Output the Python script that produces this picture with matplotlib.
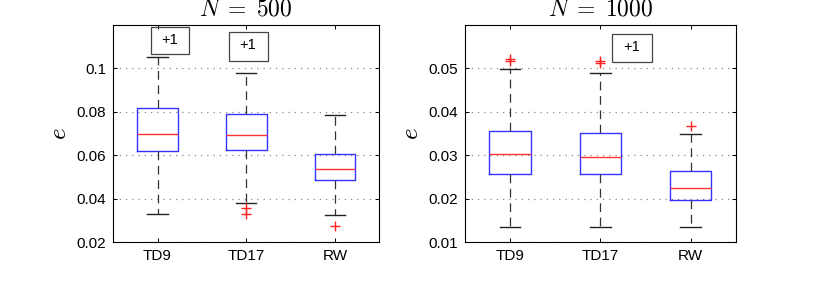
import matplotlib
matplotlib.use('Agg')
import matplotlib.pyplot as plt
from matplotlib.patches import Rectangle

plt.rcParams['font.family'] = ['Liberation Sans', 'DejaVu Sans']
plt.rcParams['mathtext.fontset'] = 'cm'

# Box statistics
labels = ['TD9', 'TD17', 'RW']

# N = 500
n500_whislo = [0.0331, 0.0381, 0.0325]
n500_q1 = [0.0622, 0.0625, 0.0485]
n500_med = [0.0697, 0.0692, 0.0537]
n500_q3 = [0.0818, 0.0792, 0.0606]
n500_whishi = [0.1054, 0.0980, 0.0788]
n500_fliers = [[], [0.0358, 0.0332], [0.0277]]

# N = 1000
n1000_whislo = [0.0135, 0.0135, 0.0135]
n1000_q1 = [0.0257, 0.0257, 0.0198]
n1000_med = [0.0302, 0.0297, 0.0226]
n1000_q3 = [0.0355, 0.0351, 0.0264]
n1000_whishi = [0.0499, 0.0490, 0.0348]
n1000_fliers = [[0.0521, 0.0517], [0.0518, 0.0512], [0.0368]]

# "+1" markers for values off the top of the axes (axes fractions)
n500_notes = [(0.141, 0.867, 0.144, 0.122), (0.434, 0.836, 0.146, 0.130)]
n1000_notes = [(0.543, 0.829, 0.147, 0.131)]


def make_stats(whislo, q1, med, q3, whishi, fliers):
    stats = []
    for i, lab in enumerate(labels):
        stats.append({'label': lab, 'whislo': whislo[i], 'q1': q1[i], 'med': med[i],
                      'q3': q3[i], 'whishi': whishi[i], 'fliers': fliers[i]})
    return stats


def draw_panel(ax, stats, ylim, yticks, title, notes):
    ax.bxp(stats, positions=[1, 2, 3], widths=0.46, showfliers=True,
           boxprops=dict(color='#3333ff', linewidth=1.0),
           medianprops=dict(color='#ff3333', linewidth=1.0),
           whiskerprops=dict(color='#333333', linewidth=0.9, linestyle=(0, (7, 4.5))),
           capprops=dict(color='#222222', linewidth=1.0),
           capwidths=0.23,
           flierprops=dict(marker='+', markeredgecolor='#ff2222', markersize=7,
                           markeredgewidth=1.0, linestyle='none'))
    ax.set_xlim(0.5, 3.5)
    ax.set_ylim(*ylim)
    ax.set_yticks(yticks)
    ax.set_yticklabels([f'{t:g}' for t in yticks])
    ax.yaxis.grid(True, color='#888888', linestyle=(0, (1, 4)), linewidth=0.9)
    ax.set_axisbelow(True)
    ax.tick_params(direction='in', top=True, right=True, length=3, labelsize=11,
                   width=0.7, pad=5)
    for sp in ax.spines.values():
        sp.set_linewidth(0.8)
    ax.set_ylabel('$e$', fontsize=18, labelpad=4)
    ax.set_title(title, fontsize=17, pad=6.5)
    for (x0, y0, w, h) in notes:
        ax.add_patch(Rectangle((x0, y0), w, h, transform=ax.transAxes, fill=False,
                               edgecolor='#444444', linewidth=0.9, clip_on=False))
        ax.text(x0 + w / 2, y0 + h / 2 + 0.005, '+1', transform=ax.transAxes,
                ha='center', va='center', fontsize=10.5)


fig = plt.figure(figsize=(8.14, 2.94), dpi=100)
ax1 = fig.add_axes([0.139, 0.176, 0.327, 0.739])
ax2 = fig.add_axes([0.571, 0.176, 0.333, 0.739])

draw_panel(ax1, make_stats(n500_whislo, n500_q1, n500_med, n500_q3, n500_whishi, n500_fliers),
           (0.02, 0.12), [0.02, 0.04, 0.06, 0.08, 0.1], r'$N\;=\;500$', n500_notes)
draw_panel(ax2, make_stats(n1000_whislo, n1000_q1, n1000_med, n1000_q3, n1000_whishi, n1000_fliers),
           (0.01, 0.06), [0.01, 0.02, 0.03, 0.04, 0.05], r'$N\;=\;1000$', n1000_notes)

fig.savefig('out.png', dpi=100)
